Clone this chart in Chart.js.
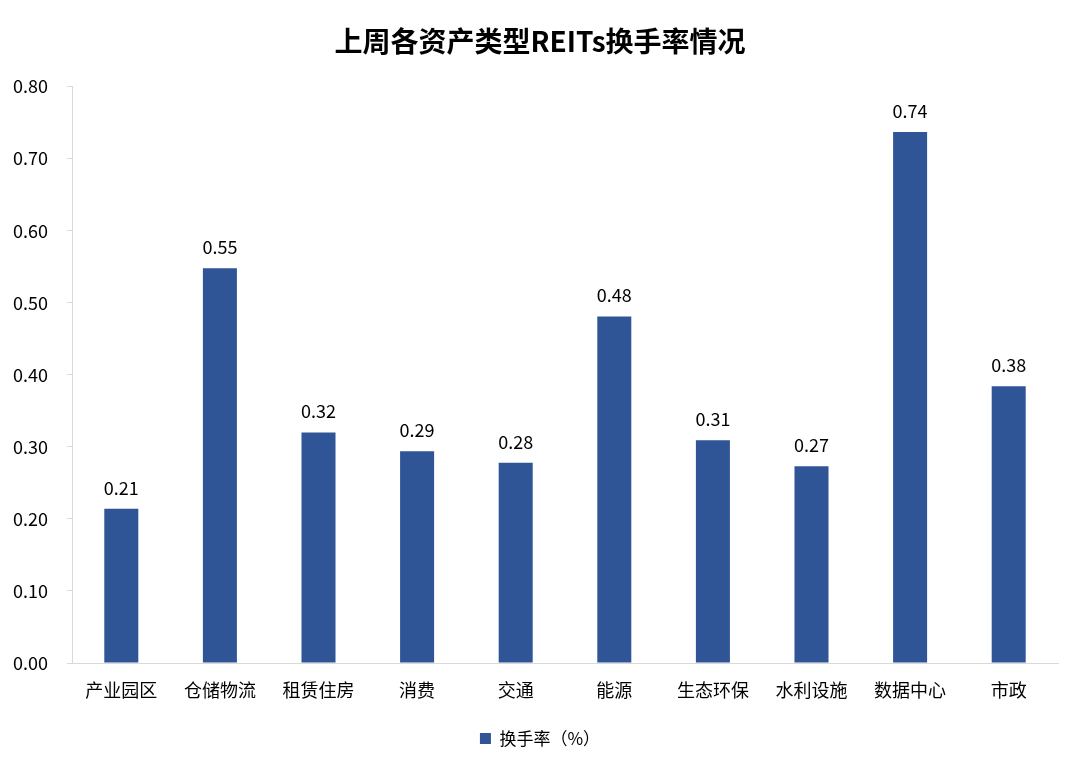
<!DOCTYPE html>
<html>
<head>
<meta charset="utf-8">
<script src="https://cdn.jsdelivr.net/npm/chart.js@4/dist/chart.umd.min.js"></script>
<style>
  html, body { margin: 0; padding: 0; background: #fff; }
  #wrap { width: 1080px; height: 767px; }
</style>
</head>
<body>
<div id="wrap"><canvas id="c" width="1080" height="767"></canvas></div>
<script>
// 数据
const categories = ['产业园区', '仓储物流', '租赁住房', '消费', '交通', '能源', '生态环保', '水利设施', '数据中心', '市政'];
const turnover = [0.214, 0.548, 0.320, 0.294, 0.278, 0.481, 0.309, 0.273, 0.737, 0.384];
const yTicks = [0, 0.1, 0.2, 0.3, 0.4, 0.5, 0.6, 0.7, 0.8];

const FONT = '"Noto Sans CJK SC", "Noto Sans", sans-serif';

// 柱顶数值标签
const barLabels = {
    id: 'barLabels',
    afterDatasetsDraw(chart) {
        const ctx = chart.ctx;
        const meta = chart.getDatasetMeta(0);
        ctx.save();
        ctx.font = '18px ' + FONT;
        ctx.fillStyle = '#000';
        ctx.textAlign = 'center';
        ctx.textBaseline = 'bottom';
        meta.data.forEach((bar, i) => {
            ctx.fillText(turnover[i].toFixed(2), bar.x, bar.y - 12);
        });
        ctx.restore();
    }
};

new Chart(document.getElementById('c').getContext('2d'), {
    type: 'bar',
    data: {
        labels: categories,
        datasets: [{
            label: '换手率（%）',
            data: turnover,
            backgroundColor: '#2F5597',
            categoryPercentage: 1,
            barPercentage: 0.345
        }]
    },
    options: {
        responsive: false,
        animation: false,
        layout: { padding: { left: 0, right: 0, bottom: 10 } },
        plugins: {
            title: {
                display: true,
                text: '上周各资产类型REITs换手率情况',
                color: '#000',
                font: { family: FONT, size: 28, weight: 'bold' },
                padding: { top: 25, bottom: 28 }
            },
            legend: {
                position: 'bottom',
                labels: {
                    color: '#000',
                    font: { family: FONT, size: 17 },
                    boxWidth: 11,
                    boxHeight: 11,
                    padding: 10
                }
            },
            tooltip: { enabled: false }
        },
        scales: {
            x: {
                grid: { display: false, drawTicks: false },
                border: { color: '#d9d9d9', width: 1 },
                ticks: { color: '#000', font: { family: FONT, size: 18 }, padding: 16, maxRotation: 0 },
                afterFit(scale) { scale.height = 57; }
            },
            y: {
                min: 0,
                max: 0.8,
                afterBuildTicks(scale) { scale.ticks = yTicks.map(v => ({ value: v })); },
                grid: { display: true, drawOnChartArea: false, tickLength: 5, color: '#d9d9d9' },
                border: { color: '#d9d9d9', width: 1 },
                ticks: {
                    color: '#000',
                    font: { family: FONT, size: 18 },
                    padding: 19,
                    callback: v => Number(v).toFixed(2)
                },
                afterFit(scale) { scale.width = 72; }
            },
            // 右侧留白
            yRight: {
                position: 'right',
                min: 0,
                max: 0.8,
                grid: { display: false },
                border: { display: false },
                ticks: { display: false },
                afterFit(scale) { scale.width = 22; }
            }
        }
    },
    plugins: [barLabels]
});
</script>
</body>
</html>
